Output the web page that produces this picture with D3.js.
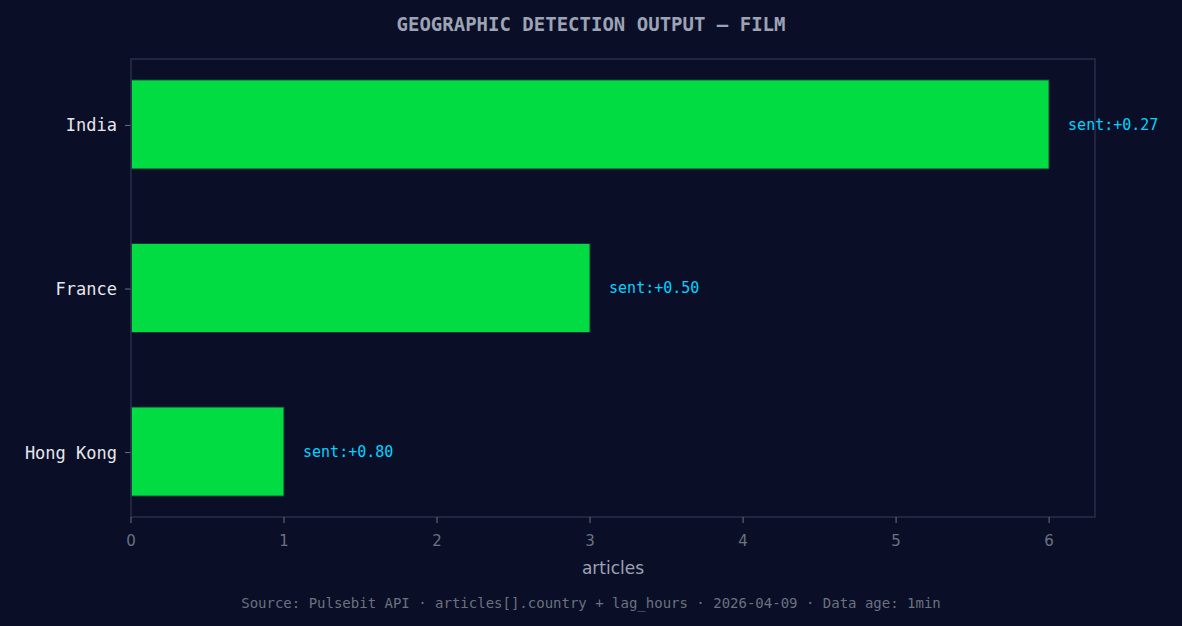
<!DOCTYPE html>
<html><head><meta charset="utf-8">
<script src="https://cdn.jsdelivr.net/npm/d3@7"></script>
<style>body{margin:0;background:#0a0e27;}svg{display:block}</style>
</head><body>
<svg id="c" width="1182" height="626"></svg>
<script>
const categories = ["India", "France", "Hong Kong"];
const counts = [6, 3, 1];
const sentLabels = ["sent:+0.27", "sent:+0.50", "sent:+0.80"];
const xTicks = [0, 1, 2, 3, 4, 5, 6];

const svg = d3.select("#c");
const L = 131, R = 1095, T = 59, B = 517;
const x = d3.scaleLinear().domain([0, 6.3]).range([L, R]);
const y = d3.scaleLinear().domain([-0.4, 2.4]).range([T, B]);
const bh = 0.545;

svg.append("rect").attr("width", 1182).attr("height", 626).attr("fill", "#0a0e27");
svg.append("text").attr("x", 591).attr("y", 31).attr("text-anchor", "middle")
  .attr("font-family", "DejaVu Sans Mono").attr("font-weight", "bold").attr("font-size", 19)
  .attr("fill", "#9ca3b4").text("GEOGRAPHIC DETECTION OUTPUT — FILM");

categories.forEach((c, i) => {
  svg.append("rect").attr("x", x(0)).attr("y", y(i - bh / 2))
    .attr("width", x(counts[i]) - x(0)).attr("height", y(i + bh / 2) - y(i - bh / 2))
    .attr("fill", "#00dc41").attr("stroke", "#1e2a3a").attr("stroke-width", 1);
  svg.append("text").attr("x", x(counts[i]) + 19).attr("y", y(i)).attr("dy", "0.35em")
    .attr("font-family", "DejaVu Sans Mono").attr("font-size", 15).attr("fill", "#00d4ff")
    .text(sentLabels[i]);
  svg.append("line").attr("x1", L - 6).attr("x2", L).attr("y1", y(i) + 1).attr("y2", y(i) + 1)
    .attr("stroke", "#6b7280");
  svg.append("text").attr("x", L - 14).attr("y", y(i) + 1).attr("dy", "0.35em").attr("text-anchor", "end")
    .attr("font-family", "DejaVu Sans Mono").attr("font-size", 17).attr("fill", "#e5e7eb").text(c);
});

svg.append("rect").attr("x", L).attr("y", T).attr("width", R - L).attr("height", B - T)
  .attr("fill", "none").attr("stroke", "#2a2f4a").attr("stroke-width", 1.5);

xTicks.forEach(t => {
  svg.append("line").attr("x1", x(t)).attr("x2", x(t)).attr("y1", B).attr("y2", B + 6).attr("stroke", "#6b7280");
  svg.append("text").attr("x", x(t)).attr("y", B + 29).attr("text-anchor", "middle")
    .attr("font-family", "DejaVu Sans").attr("font-size", 15).attr("fill", "#6b7280").text(t);
});
svg.append("text").attr("x", (L + R) / 2).attr("y", 574).attr("text-anchor", "middle")
  .attr("font-family", "DejaVu Sans").attr("font-size", 17).attr("fill", "#9ca3b4").text("articles");
svg.append("text").attr("x", 591).attr("y", 608).attr("text-anchor", "middle")
  .attr("font-family", "DejaVu Sans Mono").attr("font-size", 14).attr("fill", "#6b7280")
  .text("Source: Pulsebit API · articles[].country + lag_hours · 2026-04-09 · Data age: 1min");
</script>
</body></html>
